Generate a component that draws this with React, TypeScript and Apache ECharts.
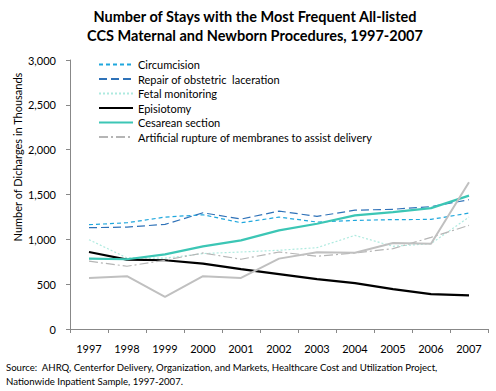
import React, { useEffect, useRef } from "react";
import * as echarts from "echarts";

const years = ["1997", "1998", "1999", "2000", "2001", "2002", "2003", "2004", "2005", "2006", "2007"];
const circumcision = [1163, 1185, 1248, 1274, 1185, 1248, 1193, 1211, 1220, 1222, 1293];
const repairLaceration = [1130, 1137, 1167, 1296, 1226, 1315, 1256, 1325, 1335, 1365, 1442];
const fetalMonitoring = [996, 793, 790, 841, 859, 878, 907, 1044, 922, 952, 1248];
const episiotomy = [859, 774, 767, 730, 667, 611, 556, 512, 444, 389, 376];
const cesarean = [785, 778, 833, 922, 989, 1100, 1174, 1267, 1304, 1348, 1487];
const artificialRupture = [756, 700, 767, 848, 778, 859, 811, 848, 896, 1022, 1156];
const unlabeled = [570, 589, 359, 589, 570, 785, 855, 850, 959, 950, 1637];
const yTicks = [0, 500, 1000, 1500, 2000, 2500, 3000];

const FONT = "Lato, 'Liberation Sans', sans-serif";

export default function App() {
  const ref = useRef<HTMLDivElement>(null);
  useEffect(() => {
    if (!ref.current) return;
    const chart = echarts.init(ref.current, null, { renderer: "svg" });
    const mk = (name: string, data: number[], color: string, width: number, type: any) => ({
      name,
      type: "line",
      data,
      symbol: "none",
      lineStyle: { color, width, type },
      itemStyle: { color },
    });
    chart.setOption({
      animation: false,
      backgroundColor: "#ffffff",
      textStyle: { fontFamily: FONT },
      title: {
        text: "Number of Stays with the Most Frequent All-listed\nCCS Maternal and Newborn Procedures, 1997-2007",
        left: 250,
        textAlign: "center",
        top: 2,
        textStyle: { fontFamily: FONT, fontSize: 14.5, fontWeight: "bold", color: "#000", lineHeight: 19 },
      },
      legend: {
        orient: "vertical",
        left: 93,
        top: 54,
        itemWidth: 34,
        itemHeight: 11,
        itemGap: 3.5,
        itemStyle: { opacity: 0 },
        data: [
          "Circumcision",
          "Repair of obstetric  laceration",
          "Fetal monitoring",
          "Episiotomy",
          "Cesarean section",
          "Artificial rupture of membranes to assist delivery",
        ],
        textStyle: { fontFamily: FONT, fontSize: 11, color: "#000", lineHeight: 11 },
      },
      grid: { left: 70, right: 8, top: 60, bottom: 62 },
      xAxis: {
        type: "category",
        data: years,
        boundaryGap: true,
        axisLine: { lineStyle: { color: "#888" } },
        axisTick: { show: true, length: 4, inside: false, alignWithLabel: false, lineStyle: { color: "#888" } },
        axisLabel: { fontFamily: FONT, fontSize: 11, color: "#000", margin: 14 },
      },
      yAxis: {
        type: "value",
        min: yTicks[0],
        max: yTicks[yTicks.length - 1],
        interval: 500,
        axisLine: { show: true, lineStyle: { color: "#888" } },
        axisTick: { show: true, length: 4, lineStyle: { color: "#888" } },
        splitLine: { show: false },
        axisLabel: {
          fontFamily: FONT,
          fontSize: 11,
          color: "#000",
          margin: 14,
          formatter: (v: number) => v.toLocaleString("en-US"),
        },
      },
      series: [
        mk("Circumcision", circumcision, "#1fa7dd", 1.2, [4, 3]),
        mk("Repair of obstetric  laceration", repairLaceration, "#2f72b8", 1.2, [8, 4]),
        mk("Fetal monitoring", fetalMonitoring, "#aeeadf", 1.2, [2, 2]),
        mk("Episiotomy", episiotomy, "#000000", 2.2, "solid"),
        mk("Cesarean section", cesarean, "#3cc6b5", 2.2, "solid"),
        mk("Artificial rupture of membranes to assist delivery", artificialRupture, "#b5b5b5", 1.2, [9, 3, 2, 3]),
        mk("Unlabeled", unlabeled, "#c0c0c0", 2, "solid"),
      ],
      graphic: [
        {
          type: "text",
          x: 17,
          y: 157,
          rotation: Math.PI / 2,
          style: {
            text: "Number of Dicharges in Thousands",
            fontFamily: FONT,
            fontSize: 11,
            fill: "#000",
            align: "center",
            verticalAlign: "middle",
          },
        },
        {
          type: "text",
          left: 6,
          top: 360,
          style: {
            text: "Source:  AHRQ, Centerfor Delivery, Organization, and Markets, Healthcare Cost and Utilization Project,\nNationwide Inpatient Sample, 1997-2007.",
            fontFamily: FONT,
            fontSize: 9.6,
            lineHeight: 14,
            fill: "#000",
          },
        },
      ],
    });
    return () => chart.dispose();
  }, []);
  return <div ref={ref} style={{ width: 496, height: 391, position: "absolute", left: 0, top: 0 }} />;
}
